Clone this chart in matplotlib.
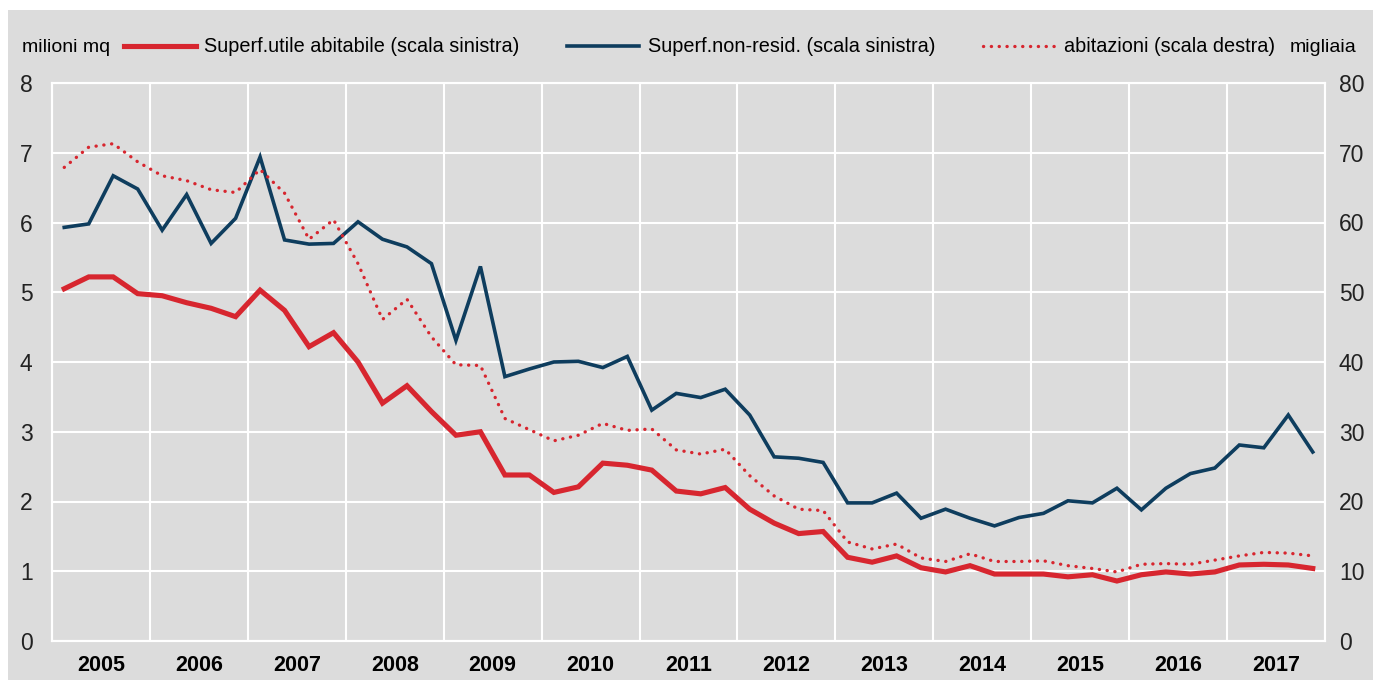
import numpy as np
import matplotlib
matplotlib.use("Agg")
import matplotlib.pyplot as plt
from matplotlib.patches import Rectangle

plt.rcParams['font.family'] = ['Liberation Sans Narrow', 'Liberation Sans', 'DejaVu Sans']

# dati trimestrali 2005T1 - 2017T4
anni = list(range(2005, 2018))
superf_abitabile = [5.05, 5.22, 5.22, 4.98, 4.95, 4.85, 4.77, 4.65,
                    5.03, 4.74, 4.22, 4.42, 4.00, 3.41, 3.66, 3.29,
                    2.95, 3.00, 2.38, 2.38, 2.13, 2.21, 2.55, 2.52,
                    2.45, 2.15, 2.11, 2.20, 1.89, 1.69, 1.54, 1.57,
                    1.20, 1.13, 1.22, 1.05, 0.99, 1.08, 0.96, 0.96,
                    0.96, 0.92, 0.95, 0.86, 0.95, 0.99, 0.96, 0.99,
                    1.09, 1.10, 1.09, 1.04]
superf_non_resid = [5.93, 5.98, 6.67, 6.48, 5.89, 6.40, 5.70, 6.06,
                    6.94, 5.75, 5.69, 5.70, 6.01, 5.76, 5.65, 5.41,
                    4.31, 5.37, 3.79, 3.90, 4.00, 4.01, 3.92, 4.08,
                    3.31, 3.55, 3.49, 3.61, 3.24, 2.64, 2.62, 2.56,
                    1.98, 1.98, 2.12, 1.76, 1.89, 1.76, 1.65, 1.77,
                    1.83, 2.01, 1.98, 2.19, 1.88, 2.19, 2.40, 2.48,
                    2.81, 2.77, 3.24, 2.71]
abitazioni = [67.9, 70.8, 71.3, 68.7, 66.7, 66.0, 64.7, 64.3,
              67.6, 64.2, 57.6, 60.4, 54.1, 46.1, 49.0, 43.6,
              39.6, 39.5, 31.9, 30.3, 28.7, 29.5, 31.2, 30.2,
              30.4, 27.4, 26.8, 27.5, 23.7, 20.8, 18.9, 18.7,
              14.2, 13.2, 13.9, 11.9, 11.4, 12.5, 11.4, 11.4,
              11.5, 10.8, 10.4, 9.9, 11.0, 11.1, 11.0, 11.6,
              12.2, 12.7, 12.6, 12.2]

trimestri = 2005 + (np.arange(len(superf_abitabile)) + 0.5) / 4

ROSSO = '#d7262f'
BLU = '#0e3d5e'
GRIGIO = '#dcdcdc'

fig = plt.figure(figsize=(13.73, 6.84), dpi=100, facecolor='white')
# pannello grigio di sfondo (sotto agli assi)
fig.patches.append(Rectangle((8 / 1373, 4 / 684), 1 - 8 / 1373, 1 - 14 / 684,
                             transform=fig.transFigure, facecolor=GRIGIO,
                             edgecolor='none', zorder=-10))

ax = fig.add_axes([52 / 1373, 1 - 641 / 684, (1325 - 52) / 1373, (641 - 83) / 684])
ax.set_facecolor(GRIGIO)
ax2 = ax.twinx()

l1, = ax.plot(trimestri, superf_abitabile, color=ROSSO, lw=3.7,
              solid_joinstyle='miter', label='Superf.utile abitabile (scala sinistra)')
l2, = ax.plot(trimestri, superf_non_resid, color=BLU, lw=2.6,
              solid_joinstyle='miter', label='Superf.non-resid. (scala sinistra)')
l3, = ax2.plot(trimestri, abitazioni, color=ROSSO, lw=2.4, linestyle=(0, (0.05, 2.3)),
               dash_capstyle='round', label='abitazioni (scala destra)')

ax.set_xlim(2005, 2018)
ax.set_ylim(0, 8)
ax2.set_ylim(0, 80)
ax.set_yticks(range(0, 9))
ax2.set_yticks(range(0, 81, 10))

ax.set_xticks(range(2005, 2019))
ax.set_xticklabels([])
ax.set_xticks([a + 0.5 for a in anni], minor=True)
ax.set_xticklabels([str(a) for a in anni], minor=True, fontsize=15.5, fontweight='bold')
ax.tick_params(axis='x', which='both', length=0, pad=10)
ax.tick_params(axis='y', length=0, labelsize=16.5, colors='#222222', pad=14)
ax2.tick_params(axis='y', length=0, labelsize=16.5, colors='#222222', pad=10)

ax.grid(True, which='major', color='white', lw=1.5)
ax.set_axisbelow(True)
for a in (ax, ax2):
    for s in a.spines.values():
        s.set_color('white')
        s.set_linewidth(1.5)

fig.text(22 / 1373, 1 - 47 / 684, 'milioni mq', fontsize=14, va='center', ha='left')
fig.text(1356 / 1373, 1 - 48 / 684, 'migliaia', fontsize=14, va='center', ha='right')

leg = fig.legend(handles=[l1, l2, l3], ncol=3, loc='center left',
                 bbox_to_anchor=(124 / 1373, 1 - 47 / 684), frameon=False,
                 fontsize=14.3, handlelength=3.6, handletextpad=0.45,
                 columnspacing=2.4, borderaxespad=0, borderpad=0)

fig.savefig('out.png', dpi=100, facecolor=fig.get_facecolor())
